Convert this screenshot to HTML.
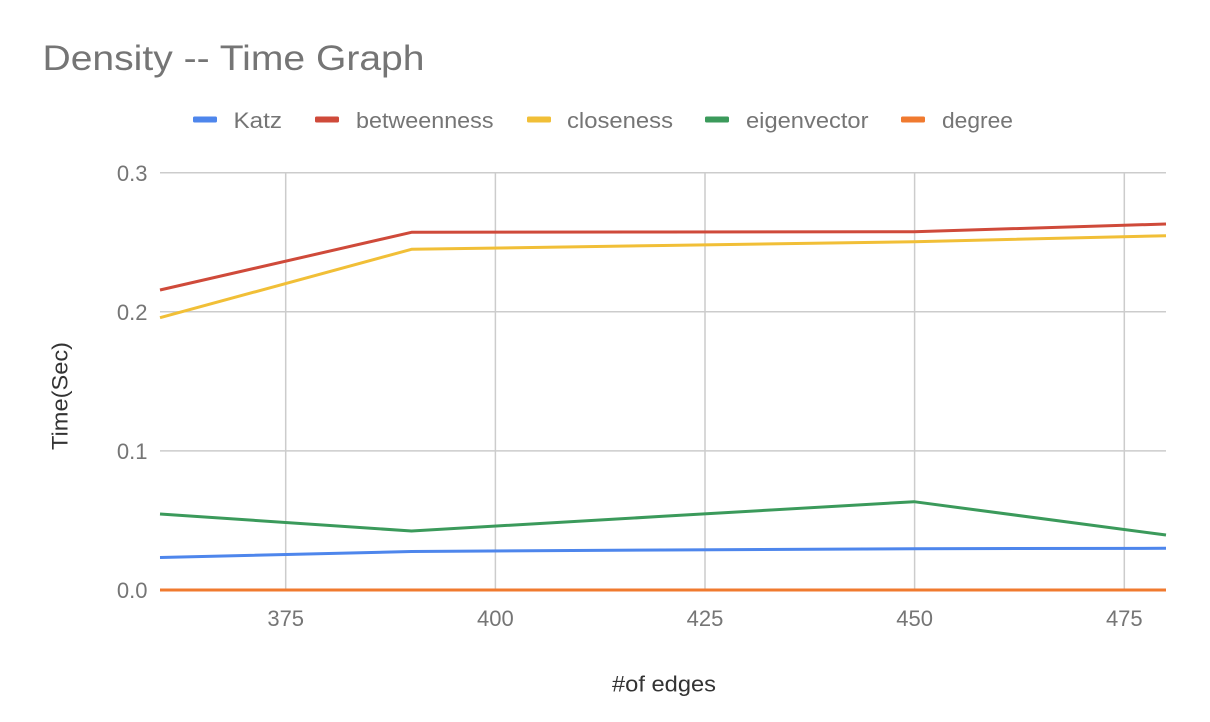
<!DOCTYPE html>
<html>
<head>
<meta charset="utf-8">
<style>
  html, body { margin:0; padding:0; background:#ffffff; }
  svg { display:block; }
  text { font-family: "Liberation Sans", "DejaVu Sans", sans-serif; }
</style>
</head>
<body>
<svg width="1210" height="722" viewBox="0 0 1210 722" xmlns="http://www.w3.org/2000/svg">
  <rect width="1210" height="722" fill="#ffffff"/>

  <!-- Title -->
  <text x="42.5" y="70" font-size="35" fill="#757575" textLength="382" lengthAdjust="spacingAndGlyphs">Density -- Time Graph</text>

  <!-- Legend -->
  <g font-size="22" fill="#757575">
    <rect x="193" y="116.5" width="24" height="6" rx="1.5" fill="#4e86ec"/>
    <text x="233.5" y="128" textLength="48.5" lengthAdjust="spacingAndGlyphs">Katz</text>
    <rect x="315" y="116.5" width="24" height="6" rx="1.5" fill="#cf4a3a"/>
    <text x="356" y="128" textLength="137.5" lengthAdjust="spacingAndGlyphs">betweenness</text>
    <rect x="527" y="116.5" width="24" height="6" rx="1.5" fill="#f1bf37"/>
    <text x="567" y="128" textLength="106" lengthAdjust="spacingAndGlyphs">closeness</text>
    <rect x="705" y="116.5" width="24" height="6" rx="1.5" fill="#3b9a5b"/>
    <text x="746" y="128" textLength="122.5" lengthAdjust="spacingAndGlyphs">eigenvector</text>
    <rect x="901" y="116.5" width="24" height="6" rx="1.5" fill="#f07a2f"/>
    <text x="942" y="128" textLength="71" lengthAdjust="spacingAndGlyphs">degree</text>
  </g>

  <!-- Gridlines -->
  <g stroke="#cccccc" stroke-width="1.5" fill="none">
    <line x1="160" y1="172.7" x2="1166" y2="172.7"/>
    <line x1="160" y1="311.8" x2="1166" y2="311.8"/>
    <line x1="160" y1="450.9" x2="1166" y2="450.9"/>
    <line x1="160" y1="590" x2="1166" y2="590"/>
    <line x1="285.7" y1="172.7" x2="285.7" y2="590"/>
    <line x1="495.4" y1="172.7" x2="495.4" y2="590"/>
    <line x1="705" y1="172.7" x2="705" y2="590"/>
    <line x1="914.6" y1="172.7" x2="914.6" y2="590"/>
    <line x1="1124.3" y1="172.7" x2="1124.3" y2="590"/>
  </g>

  <!-- Y tick labels -->
  <g font-size="22" fill="#757575" text-anchor="end">
    <text x="147.5" y="181">0.3</text>
    <text x="147.5" y="320">0.2</text>
    <text x="147.5" y="459">0.1</text>
    <text x="147.5" y="598">0.0</text>
  </g>

  <!-- X tick labels -->
  <g font-size="22" fill="#757575" text-anchor="middle">
    <text x="285.7" y="626">375</text>
    <text x="495.4" y="626">400</text>
    <text x="705" y="626">425</text>
    <text x="914.6" y="626">450</text>
    <text x="1124.3" y="626">475</text>
  </g>

  <!-- Axis titles -->
  <text x="664" y="691.5" font-size="22" fill="#333333" text-anchor="middle" textLength="104" lengthAdjust="spacingAndGlyphs">#of edges</text>
  <text transform="translate(67.5,396) rotate(-90)" x="0" y="0" font-size="22" fill="#333333" text-anchor="middle" textLength="108" lengthAdjust="spacingAndGlyphs">Time(Sec)</text>

  <!-- Series -->
  <g fill="none" stroke-width="3" stroke-linejoin="round" stroke-linecap="butt">
    <polyline stroke="#4e86ec" points="160,557.5 411.5,551.5 663,550 914,548.7 1166,548.3"/>
    <polyline stroke="#cf4a3a" points="160,290 411.5,232.3 663,232 914,231.7 1166,224"/>
    <polyline stroke="#f1bf37" points="160,317.7 411.5,249.3 663,245.5 914,241.7 1166,235.7"/>
    <polyline stroke="#3b9a5b" points="160,514 411.5,531 663,516.3 914,501.7 1166,535"/>
    <polyline stroke="#f07a2f" points="160,590 411.5,590 663,590 914,590 1166,590"/>
  </g>
</svg>
</body>
</html>
